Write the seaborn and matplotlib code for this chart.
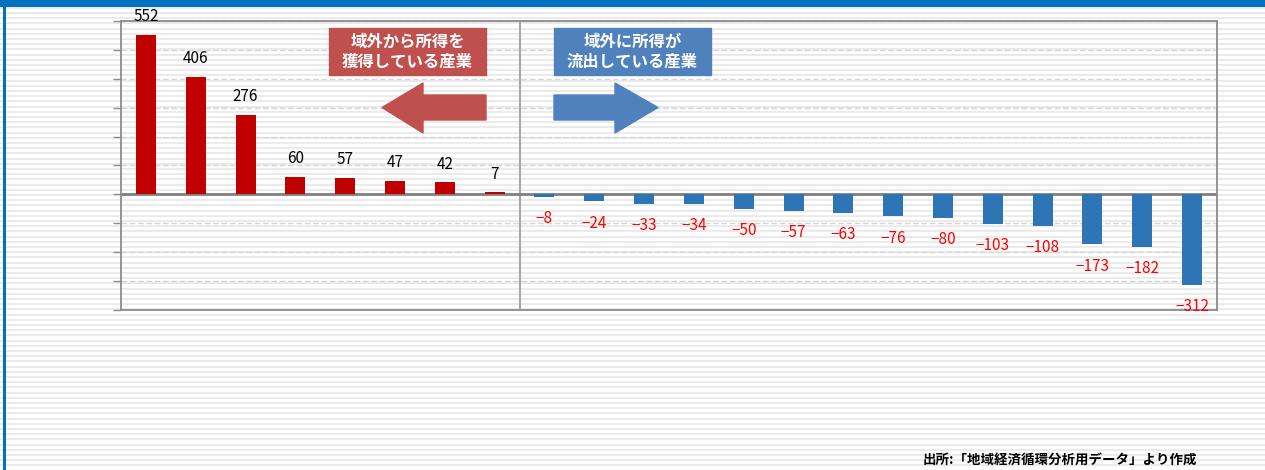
import numpy as np
import pandas as pd
import matplotlib
matplotlib.use("Agg")
import matplotlib.pyplot as plt
from matplotlib.patches import Polygon, Rectangle
import seaborn as sns

# Net regional income flow by industry (positive: income earned from outside,
# negative: income flowing out of the region)
gain_values = [552, 406, 276, 60, 57, 47, 42, 7]
loss_values = [-8, -24, -33, -34, -50, -57, -63, -76, -80, -103, -108, -173, -182, -312]
y_ticks = [-400, -300, -200, -100, 0, 100, 200, 300, 400, 500, 600]

gain_label = "域外から所得を\n獲得している産業"
loss_label = "域外に所得が\n流出している産業"
source_note = "出所:「地域経済循環分析用データ」より作成"

values = gain_values + loss_values
df = pd.DataFrame({
    "industry": [str(i + 1) for i in range(len(values))],
    "value": values,
    "flow": ["gain"] * len(gain_values) + ["loss"] * len(loss_values),
})

sns.set_theme(style="white")
plt.rcParams["font.family"] = ["Noto Sans CJK JP", "DejaVu Sans"]
plt.rcParams["axes.unicode_minus"] = True

W, H = 1265, 470
fig = plt.figure(figsize=(W / 100, H / 100), dpi=100)
fig.patch.set_facecolor("white")


def fpos(x, y):
    """Pixel position (from top-left) to figure fraction."""
    return x / W, 1 - y / H


# Ruled background across the whole sheet
bg = fig.add_axes([0, 0, 1, 1], zorder=-10)
bg.set_xlim(0, W)
bg.set_ylim(H, 0)
bg.axis("off")
bg.hlines(np.arange(2.5, H, 5.2), 0, W, color="#E9E9E9", lw=1.3, zorder=1)
# Blue frame (top band and left edge)
bg.add_patch(Rectangle((0, 0), W, 6.5, color="#0070C0", lw=0, zorder=3))
bg.add_patch(Rectangle((3, 0), 3.2, H, color="#0070C0", lw=0, zorder=3))

# Main bar chart
ax = fig.add_axes([121 / W, 1 - 310 / H, 1096 / W, 289 / H])
ax.set_facecolor("none")
ax.axhline(0, color="#808080", lw=2, zorder=2.5)
sns.barplot(
    data=df, x="industry", y="value", hue="flow",
    palette={"gain": "#C00000", "loss": "#2E75B6"}, saturation=1,
    width=0.4, dodge=False, legend=False, ax=ax, zorder=3, linewidth=0,
)
ax.set_ylim(-400, 600)
ax.set_xlim(-0.5, len(values) - 0.5)
ax.set_yticks(y_ticks)
ax.set_yticklabels([])
ax.set_xticks([])
ax.set_xlabel("")
ax.set_ylabel("")
ax.yaxis.grid(True, linestyle=(0, (4, 2)), color="#D6D6D6", lw=1)
ax.set_axisbelow(True)
ax.tick_params(axis="y", direction="out", length=6, width=1, color="#8C8C8C", left=True)
for sp in ax.spines.values():
    sp.set_color("#8C8C8C")
    sp.set_linewidth(1.3)
ax.axvline(len(gain_values) - 0.5, color="#A6A6A6", lw=1.5, zorder=2)

# Value labels
for i, v in enumerate(values):
    if v >= 0:
        ax.annotate(f"{v}", (i, v), xytext=(0, 7), textcoords="offset points",
                    ha="center", va="bottom", fontsize=11, color="#000000", zorder=5)
    else:
        ax.annotate(f"\u2212{abs(v)}", (i, v), xytext=(0, -9.5), textcoords="offset points",
                    ha="center", va="top", fontsize=11, color="#FF0000", zorder=5)

# Caption boxes
for (x0, x1, color, text) in [(329, 486, "#C0504D", gain_label),
                              (554, 711, "#4F81BD", loss_label)]:
    fx0, fy0 = fpos(x0, 75)
    fx1, fy1 = fpos(x1, 28)
    fig.patches.append(Rectangle((fx0, fy0), fx1 - fx0, fy1 - fy0, color=color,
                                 transform=fig.transFigure, figure=fig, zorder=5))
    cx, cy = fpos((x0 + x1) / 2, 52)
    fig.text(cx, cy, text, ha="center", va="center", color="white",
             fontsize=11.8, fontweight="bold", linespacing=1.15, zorder=6)

# Direction arrows
left_arrow = [(486, 95), (423, 95), (423, 83), (382, 107.5), (423, 133), (423, 120), (486, 120)]
right_arrow = [(554, 95), (615, 95), (615, 83), (658, 107.5), (615, 133), (615, 120), (554, 120)]
for pts, color in [(left_arrow, "#C0504D"), (right_arrow, "#4F81BD")]:
    fig.patches.append(Polygon([fpos(x, y) for x, y in pts], closed=True, color=color,
                               transform=fig.transFigure, figure=fig, zorder=5))

# Source note
sx, sy = fpos(1197, 460)
fig.text(sx, sy, source_note, ha="right", va="center", fontsize=9.7, fontweight="bold",
         color="#000000")

fig.savefig("out.png", dpi=100)
